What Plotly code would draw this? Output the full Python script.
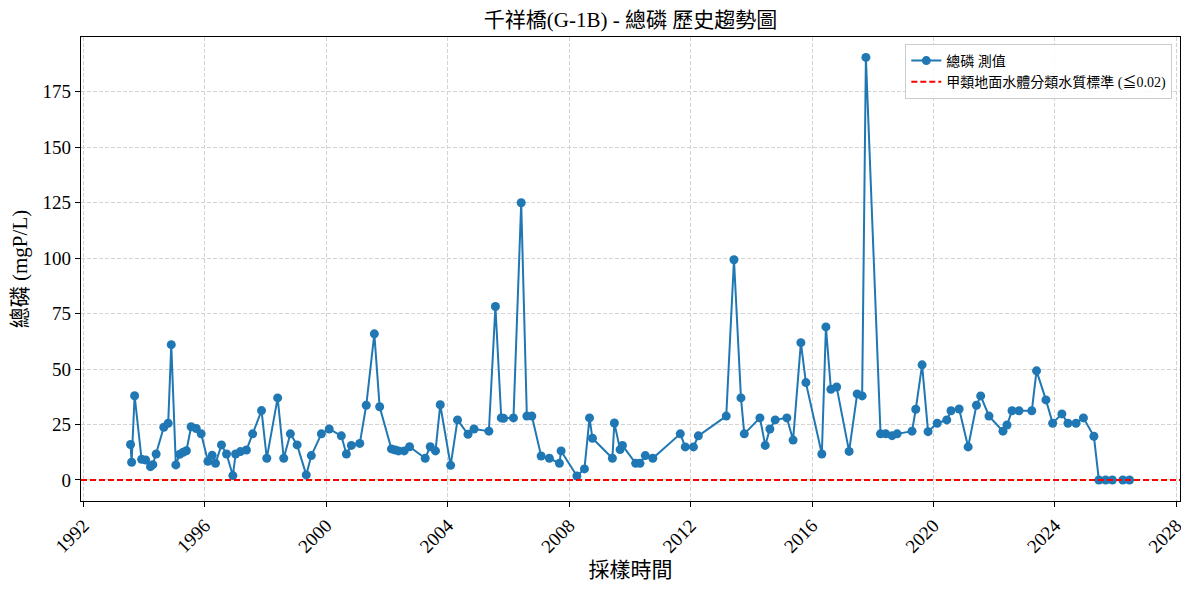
import plotly.graph_objects as go

dates = [
    "1993-07-21", "1993-08-03", "1993-09-08", "1993-12-01",
    "1994-01-19", "1994-03-18", "1994-04-15", "1994-05-25", "1994-08-25", "1994-10-17", "1994-11-23",
    "1995-01-17", "1995-03-05", "1995-04-15", "1995-05-24", "1995-07-20", "1995-09-19", "1995-11-18",
    "1996-02-07", "1996-03-29", "1996-05-08", "1996-07-19", "1996-09-18", "1996-12-03",
    "1997-01-05", "1997-03-04", "1997-05-15", "1997-07-29", "1997-11-13",
    "1998-01-15", "1998-05-26", "1998-08-07", "1998-10-26",
    "1999-01-15", "1999-05-05", "1999-07-05", "1999-11-03",
    "2000-02-05", "2000-06-30", "2000-08-30", "2000-10-29",
    "2001-02-07", "2001-04-26", "2001-08-01", "2001-10-04",
    "2002-02-23", "2002-04-10", "2002-05-19", "2002-07-26", "2002-09-29",
    "2003-04-05", "2003-06-05", "2003-08-07", "2003-10-03",
    "2004-02-05", "2004-04-28", "2004-09-01", "2004-11-12",
    "2005-05-10", "2005-07-28", "2005-10-06", "2005-11-03",
    "2006-03-02", "2006-06-03", "2006-08-10", "2006-10-09",
    "2007-01-29", "2007-05-08", "2007-09-06", "2007-09-26",
    "2008-04-03", "2008-07-03", "2008-09-02", "2008-10-07",
    "2009-06-04", "2009-06-28", "2009-09-05", "2009-10-03",
    "2010-03-11", "2010-05-02", "2010-07-05", "2010-10-03",
    "2011-08-30", "2011-10-29",
    "2012-02-04", "2012-04-03",
    "2013-03-05", "2013-06-06", "2013-08-29", "2013-10-08",
    "2014-04-14", "2014-06-17", "2014-08-12", "2014-10-15",
    "2015-03-04", "2015-05-18", "2015-08-20", "2015-10-19",
    "2016-04-28", "2016-06-16", "2016-08-15", "2016-10-23",
    "2017-03-22", "2017-06-27", "2017-08-26", "2017-10-10",
    "2018-04-04", "2018-06-06", "2018-08-21", "2018-10-21",
    "2019-04-18", "2019-06-02", "2019-08-17", "2019-10-28",
    "2020-02-14", "2020-06-09", "2020-07-30", "2020-11-05",
    "2021-02-21", "2021-06-01", "2021-07-22", "2021-10-30",
    "2022-04-16", "2022-06-04", "2022-08-03", "2022-10-26",
    "2023-03-29", "2023-05-25", "2023-09-15", "2023-12-05",
    "2024-03-25", "2024-06-06", "2024-09-11", "2024-12-09",
    "2025-04-14", "2025-06-13", "2025-09-03", "2025-11-22",
    "2026-03-28", "2026-06-17",
]

tp_values = [
    16, 8, 38, 9.3,
    9, 6, 6.9, 11.7, 23.8, 25.6, 61,
    6.8, 11.6, 12.5, 13.2, 24, 23.2, 20.8,
    8.4, 11.1, 7.5, 15.8, 11.7, 2,
    11.7, 12.8, 13.5, 20.8, 31.3,
    9.8, 37, 9.8, 20.8,
    15.8, 2.3, 11, 20.8,
    23, 19.9, 11.7, 15.6,
    16.5, 33.7, 65.9, 33,
    14, 13.5, 13.1, 13.1, 15,
    9.8, 15, 13.1, 33.9,
    6.6, 27.1, 20.6, 23,
    22, 78.2, 28, 27.8,
    28, 125, 28.8, 28.8,
    10.8, 9.8, 7.5, 13.1,
    1.8, 5, 28, 18.8,
    9.8, 25.7, 13.7, 15.6,
    7.5, 7.5, 11, 9.8,
    20.8, 14.9,
    14.9, 19.9,
    28.8, 99.3, 37, 20.8,
    28, 15.6, 23, 27.1,
    28, 18, 61.9, 43.9,
    11.7, 69, 40.9, 41.9,
    12.9, 38.8, 37.9, 190.5,
    20.8, 20.8, 20, 20.8,
    22, 31.9, 51.9, 21.8,
    25.6, 27.1, 31.2, 32,
    14.9, 33.7, 37.9, 28.8,
    22, 24.8, 31.2, 31.2,
    31.2, 49.2, 36.1, 25.6,
    29.8, 25.6, 25.6, 28,
    19.7, 0.02, 0.02, 0.02,
    0.02, 0.02,
]

standard_value = 0.02
x_tick_years = [str(y) for y in range(1992, 2029, 4)]
y_tick_values = [0, 25, 50, 75, 100, 125, 150, 175]

FONT = "Liberation Serif, Noto Sans CJK TC, serif"
BLUE = "#1f77b4"
GRID = "#d3d3d3"

# The page body has an 8px default margin; the figure is offset by it.
W, H = 1181, 582

fig = go.Figure()
fig.add_trace(go.Scatter(
    x=dates, y=tp_values, mode="lines+markers", name="總磷 測值",
    line=dict(color=BLUE, width=2),
    marker=dict(color=BLUE, size=9),
))
fig.add_trace(go.Scatter(
    x=[None], y=[None], mode="lines", name="甲類地面水體分類水質標準 (≦0.02)",
    line=dict(color="red", width=2, dash="6px,3px"),
))
fig.add_shape(type="line", xref="paper", yref="y", x0=0, x1=1,
              y0=standard_value, y1=standard_value,
              line=dict(color="red", width=2, dash="6px,3px"))

fig.update_layout(
    width=W, height=H,
    margin=dict(l=73, r=9, t=29, b=89),
    paper_bgcolor="white", plot_bgcolor="white",
    font=dict(family=FONT, color="black", size=19),
    title=dict(text="千祥橋(G-1B) - 總磷 歷史趨勢圖", xref="paper", x=0.5, xanchor="center",
               y=1 - 12 / H, yanchor="middle", font=dict(size=21)),
    showlegend=True,
    legend=dict(x=0.993, xanchor="right", y=0.985, yanchor="top",
                bgcolor="rgba(255,255,255,0.85)", bordercolor="#cccccc", borderwidth=1,
                font=dict(size=14), tracegroupgap=2),
)
fig.update_xaxes(
    type="date", automargin=False,
    range=["1991-12-03", "2028-02-14"],
    tickvals=[y + "-01-01" for y in x_tick_years], ticktext=x_tick_years,
    tickangle=-45, ticklabeloverflow="allow",
    ticks="outside", ticklen=5, tickcolor="black",
    showline=True, linecolor="black", linewidth=1.2, mirror=True,
    showgrid=True, gridcolor=GRID, griddash="4px,2px", gridwidth=1,
    zeroline=False,
    title=dict(text="採樣時間", font=dict(size=21), standoff=6),
)
fig.update_yaxes(
    automargin=False,
    range=[-9.47, 199.7],
    tickvals=y_tick_values,
    ticks="outside", ticklen=5, tickcolor="black",
    showline=True, linecolor="black", linewidth=1.2, mirror=True,
    showgrid=True, gridcolor=GRID, griddash="4px,2px", gridwidth=1,
    zeroline=False,
    title=dict(text="總磷 (mgP/L)", font=dict(size=21), standoff=12),
)

fig.write_html("out.html")
